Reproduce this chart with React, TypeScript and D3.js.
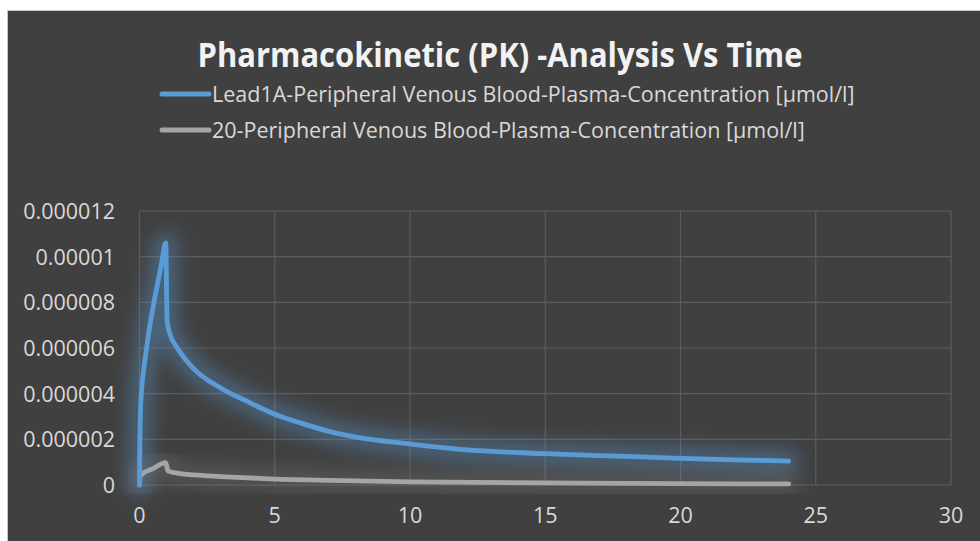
import React from 'react'
import * as d3 from 'd3'

// time in hours, concentrations in µmol/l
const leadTime = [0, 0.01, 0.03, 0.08, 0.15, 0.25, 0.4, 0.6, 0.8, 0.97, 1.02, 1.1, 1.4, 2, 3, 4, 5, 6, 7, 8, 10, 12, 15, 18, 20, 22, 24]
const leadConc = [0, 1.5e-6, 3.0e-6, 4.2e-6, 5.0e-6, 5.9e-6, 7.1e-6, 8.4e-6, 9.6e-6, 10.6e-6, 7.2e-6, 6.7e-6, 6.0e-6, 5.1e-6, 4.25e-6, 3.65e-6, 3.1e-6, 2.7e-6, 2.35e-6, 2.1e-6, 1.8e-6, 1.55e-6, 1.37e-6, 1.25e-6, 1.17e-6, 1.1e-6, 1.05e-6]

const refTime = [0, 0.02, 0.1, 0.5, 0.97, 1.05, 1.5, 2, 3, 4, 5, 7, 10, 15, 20, 24]
const refConc = [0, 0.35e-6, 0.48e-6, 0.72e-6, 0.98e-6, 0.62e-6, 0.5e-6, 0.44e-6, 0.37e-6, 0.31e-6, 0.26e-6, 0.2e-6, 0.14e-6, 0.09e-6, 0.06e-6, 0.05e-6]

const seriesNames = [
  'Lead1A-Peripheral Venous Blood-Plasma-Concentration [µmol/l]',
  '20-Peripheral Venous Blood-Plasma-Concentration [µmol/l]',
]
const seriesColors = ['#5b9bd5', '#a5a5a5']

const xTicks = [0, 5, 10, 15, 20, 25, 30]
const yTicks = [0, 0.000002, 0.000004, 0.000006, 0.000008, 0.00001, 0.000012]
const yTickLabels = ['0', '0.000002', '0.000004', '0.000006', '0.000008', '0.00001', '0.000012']

const title = 'Pharmacokinetic (PK) -Analysis Vs Time'

const width = 980
const height = 541
const font = '"Open Sans", "Noto Sans", sans-serif'

export default function App() {
  const x = d3.scaleLinear().domain([0, 30]).range([139.5, 951])
  const y = d3.scaleLinear().domain([0, 0.000012]).range([485, 211])

  const line = d3.line<[number, number]>()
    .x(d => x(d[0]))
    .y(d => y(d[1]))
    .curve(d3.curveMonotoneX)

  const series = [
    leadTime.map((t, i) => [t, leadConc[i]] as [number, number]),
    refTime.map((t, i) => [t, refConc[i]] as [number, number]),
  ]

  return (
    <svg width={width} height={height} style={{ position: 'absolute', left: 0, top: 0, fontFamily: font }}>
      <defs>
        <filter id="glow" x="-20%" y="-40%" width="140%" height="180%">
          <feGaussianBlur stdDeviation="9" />
        </filter>
      </defs>
      <rect x={0} y={0} width={width} height={height} fill="#fff" />
      <rect x={7.5} y={10.5} width={width - 7} height={height - 10} fill="#404040" stroke="#c8c8c8" strokeWidth={1} />

      <text x={500} y={67} textAnchor="middle" fill="#f2f2f2" fontSize={34} fontWeight="bold" textLength={605} lengthAdjust="spacingAndGlyphs">
        {title}
      </text>

      {seriesNames.map((name, i) => (
        <g key={name} transform={`translate(0, ${94 + i * 36})`}>
          <line x1={162} x2={209} y1={0} y2={0} stroke={seriesColors[i]} strokeWidth={5} strokeLinecap="round" />
          <text x={212} y={8} fill="#d9d9d9" fontSize={21.5}>{name}</text>
        </g>
      ))}

      {/* grid */}
      {yTicks.map(t => (
        <line key={'gy' + t} x1={x(0)} x2={x(30)} y1={y(t)} y2={y(t)} stroke="#5c5c5c" strokeWidth={1.2} />
      ))}
      {xTicks.map(t => (
        <line key={'gx' + t} x1={x(t)} x2={x(t)} y1={y(0)} y2={y(0.000012)} stroke="#5c5c5c" strokeWidth={1.2} />
      ))}

      {/* axis labels */}
      {yTicks.map((t, i) => (
        <text key={'ly' + t} x={115} y={y(t) + 8} textAnchor="end" fill="#d9d9d9" fontSize={21.5}>{yTickLabels[i]}</text>
      ))}
      {xTicks.map(t => (
        <text key={'lx' + t} x={x(t)} y={523} textAnchor="middle" fill="#d9d9d9" fontSize={21.5}>{t}</text>
      ))}

      {/* glow */}
      {series.map((s, i) => (
        <path key={'glow' + i} d={line(s) || ''} fill="none" stroke={seriesColors[i]} strokeWidth={22}
          strokeOpacity={i === 0 ? 0.4 : 0.2} strokeLinejoin="round" strokeLinecap="round" filter="url(#glow)" />
      ))}
      {series.slice().reverse().map((s, j) => {
        const i = series.length - 1 - j
        return (
          <path key={'line' + i} d={line(s) || ''} fill="none" stroke={seriesColors[i]} strokeWidth={4.8}
            strokeLinejoin="round" strokeLinecap="round" />
        )
      })}
    </svg>
  )
}
